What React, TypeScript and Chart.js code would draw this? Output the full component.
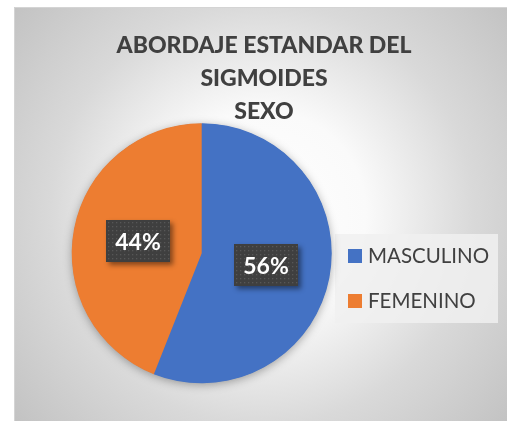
import React, { useEffect, useRef } from "react";
import { Chart, registerables } from "chart.js";

Chart.register(...registerables);

// ---- data ----
const categories: string[] = ["MASCULINO", "FEMENINO"];
const values: number[] = [56, 44];
const sliceColors: string[] = ["#4472C4", "#ED7D31"];
const titleLines: string[] = ["ABORDAJE ESTANDAR DEL", "SIGMOIDES", "SEXO"];

const W = 507;
const H = 421;
const FONT = "Lato, 'Open Sans', sans-serif";

const backgroundPlugin = {
  id: "bgFrame",
  beforeDraw(chart: any) {
    const ctx = chart.ctx as CanvasRenderingContext2D;
    ctx.save();
    ctx.fillStyle = "#ffffff";
    ctx.fillRect(0, 0, W, H);
    const fx = 14, fy = 7;
    const g = ctx.createRadialGradient(262, 214, 0, 262, 214, 325);
    g.addColorStop(0, "#ffffff");
    g.addColorStop(0.32, "#fafafa");
    g.addColorStop(0.65, "#d9d9d9");
    g.addColorStop(1, "#c2c2c2");
    ctx.fillStyle = g;
    ctx.fillRect(fx, fy, W - fx, H - fy);
    ctx.strokeStyle = "#d4d4d4";
    ctx.lineWidth = 1;
    ctx.beginPath();
    ctx.moveTo(fx + 0.5, H);
    ctx.lineTo(fx + 0.5, fy + 0.5);
    ctx.lineTo(W, fy + 0.5);
    ctx.stroke();

    // title
    ctx.fillStyle = "#404040";
    ctx.font = `900 23px ${FONT}`;
    ctx.textAlign = "center";
    ctx.textBaseline = "alphabetic";
    const baselines = [53, 86, 119];
    titleLines.forEach((t, i) => ctx.fillText(t, 264, baselines[i]));

    // legend box
    ctx.fillStyle = "rgba(240,240,240,0.85)";
    ctx.fillRect(335, 234, 163, 89);
    const rows = [256, 301];
    categories.forEach((c, i) => {
      ctx.fillStyle = sliceColors[i];
      ctx.fillRect(348, rows[i] - 7, 14, 14);
      ctx.fillStyle = "#404040";
      ctx.font = `20.5px ${FONT}`;
      ctx.textAlign = "left";
      ctx.textBaseline = "alphabetic";
      ctx.fillText(c, 368, rows[i] + 7);
    });
    ctx.restore();
  },
  beforeDatasetsDraw(chart: any) {
    const ctx = chart.ctx as CanvasRenderingContext2D;
    const arc = chart.getDatasetMeta(0).data[0];
    if (!arc) return;
    ctx.save();
    ctx.shadowColor = "rgba(0,0,0,0.35)";
    ctx.shadowBlur = 10;
    ctx.shadowOffsetY = 2;
    ctx.fillStyle = "#4472C4";
    ctx.beginPath();
    ctx.arc(arc.x, arc.y, arc.outerRadius - 0.5, 0, Math.PI * 2);
    ctx.fill();
    ctx.restore();
  },
  afterDatasetsDraw(chart: any) {
    const ctx = chart.ctx as CanvasRenderingContext2D;
    const meta = chart.getDatasetMeta(0);
    const total = values.reduce((a, b) => a + b, 0);
    meta.data.forEach((el: any, i: number) => {
      const p = el.getCenterPoint();
      const bw = 64, bh = 42;
      const bx = Math.round(p.x - bw / 2);
      const by = Math.round(p.y - bh / 2);
      ctx.save();
      ctx.shadowColor = "rgba(0,0,0,0.45)";
      ctx.shadowBlur = 5;
      ctx.shadowOffsetX = 3;
      ctx.shadowOffsetY = 3;
      ctx.fillStyle = "#3f3f3f";
      ctx.fillRect(bx, by, bw, bh);
      ctx.restore();
      ctx.save();
      ctx.fillStyle = "rgba(255,255,255,0.13)";
      for (let yy = by + 2; yy < by + bh; yy += 4) {
        for (let xx = bx + 2; xx < bx + bw; xx += 4) {
          ctx.fillRect(xx, yy, 1.3, 1.3);
        }
      }
      ctx.fillStyle = "#ffffff";
      ctx.font = `bold 23px ${FONT}`;
      ctx.textAlign = "center";
      ctx.textBaseline = "middle";
      const pct = Math.round((values[i] / total) * 100) + "%";
      ctx.fillText(pct, bx + bw / 2, by + bh / 2 + 2);
      ctx.restore();
    });
  },
};

export default function App() {
  const ref = useRef<HTMLCanvasElement | null>(null);
  useEffect(() => {
    if (!ref.current) return;
    const chart = new Chart(ref.current, {
      type: "pie",
      data: {
        labels: categories,
        datasets: [
          {
            data: values,
            backgroundColor: sliceColors,
            borderWidth: 0,
          },
        ],
      },
      options: {
        responsive: false,
        animation: false,
        events: [],
        layout: { padding: { left: 71.7, right: 175.3, top: 123.3, bottom: 37.7 } },
        plugins: {
          legend: { display: false },
          title: { display: false },
          tooltip: { enabled: false },
        },
      },
      plugins: [backgroundPlugin],
    });
    return () => chart.destroy();
  }, []);
  return (
    <div style={{ position: "fixed", left: 0, top: 0, width: W, height: H }}>
      <canvas ref={ref} width={W} height={H} style={{ display: "block", width: W, height: H }} />
    </div>
  );
}
